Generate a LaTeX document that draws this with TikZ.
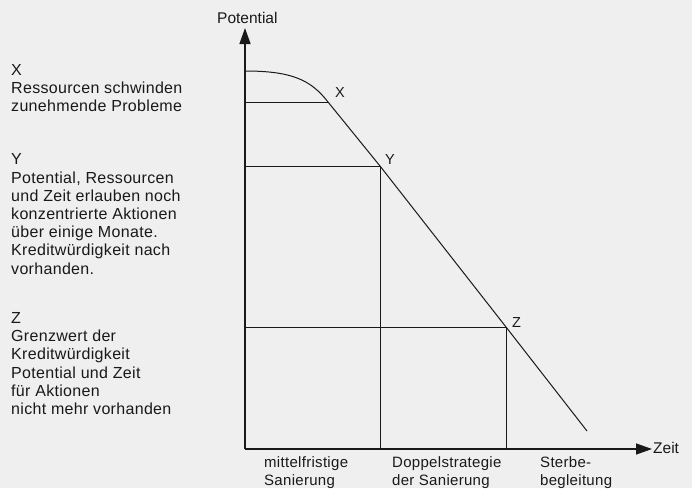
\documentclass[tikz,border=0pt]{standalone}
\usepackage{fontspec}
\setmainfont{Liberation Sans}
\usepackage{tikz}
\usetikzlibrary{arrows.meta}

\definecolor{paper}{RGB}{239,239,239}
\definecolor{ink}{RGB}{25,25,25}

\begin{document}
\begin{tikzpicture}[x=1pt, y=-1pt,
    axis/.style={draw=ink, line width=1.4pt, -{Triangle[length=16pt, width=11pt]}},
    guide/.style={draw=ink, line width=0.9pt},
    trend/.style={draw=ink, line width=1pt},
    note/.style={anchor=base west, align=left, inner sep=0pt, text=ink,
                 font=\fontsize{16}{18.2}\selectfont\addfontfeature{LetterSpace=2}},
    phase/.style={anchor=base west, align=left, inner sep=0pt, text=ink,
                  font=\fontsize{15}{18}\selectfont\addfontfeature{LetterSpace=2}},
    axlabel/.style={anchor=base west, inner sep=0pt, text=ink,
                    font=\fontsize{15.5}{18}\selectfont},
    pointlabel/.style={anchor=base west, inner sep=0pt, text=ink,
                       font=\fontsize{14.5}{18}\selectfont}
]
% paper
\fill[paper] (0,0) rectangle (692,488);
\useasboundingbox (0,0) rectangle (692,488);

% Axes
\coordinate (origin) at (245,449);
\coordinate (ytop) at (245,28);
\coordinate (xend) at (652,449);
\draw[axis] (origin) -- (ytop);
\draw[axis] (origin) -- (xend);
\node[axlabel] (potential) at (217,23) {Potential};
\node[axlabel] (zeit) at (653,453) {Zeit};

% Points on the curve
\coordinate (start) at (245,71);
\coordinate (px) at (328,102);
\coordinate (py) at (380,166);
\coordinate (pz) at (506,327);
\coordinate (tail) at (587,431);

% Curve: flat start, then straight decline
\draw[trend] (start) .. controls (292,71) and (311,80) .. (px);
\draw[trend] (px) -- (py) -- (pz) -- (tail);

% Levels and phase borders
\draw[guide] (px) -- (245,102);
\draw[guide] (py) -- (245,166);
\draw[guide] (pz) -- (245,327);
\draw[guide] (py) -- (py |- origin);
\draw[guide] (pz) -- (pz |- origin);

\node[pointlabel] (lx) at (335,97) {X};
\node[pointlabel] (ly) at (385,164) {Y};
\node[pointlabel] (lz) at (512,327) {Z};

% Left column (anchored at the last line)
\node[note] (notex) at (11,111.5) {X\\Ressourcen schwinden\\zunehmende Probleme};
\node[note] (notey) at (11,274) {Y\\Potential, Ressourcen\\und Zeit erlauben noch\\konzentrierte Aktionen\\über einige Monate.\\Kreditwürdigkeit nach\\vorhanden.};
\node[note] (notez) at (11,414.5) {Z\\Grenzwert der\\Kreditwürdigkeit\\Potential und Zeit\\für Aktionen\\nicht mehr vorhanden};

% Phases below the time axis
\node[phase] (phase1) at (264,485.5) {mittelfristige\\Sanierung};
\node[phase] (phase2) at (392,485.5) {Doppelstrategie\\der Sanierung};
\node[phase] (phase3) at (540,485.5) {Sterbe-\\begleitung};

\end{tikzpicture}
\end{document}
